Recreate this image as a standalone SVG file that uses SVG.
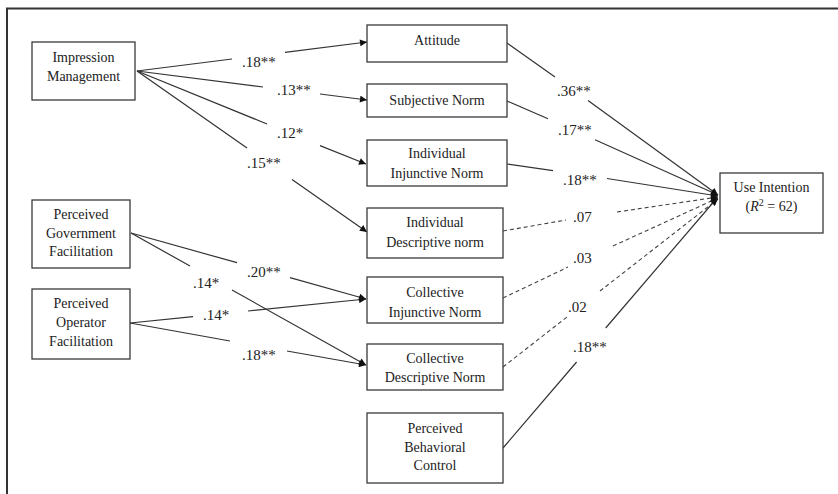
<svg xmlns="http://www.w3.org/2000/svg" width="838" height="494" viewBox="0 0 838 494">
<style>
.box{fill:#fff;stroke:#3a3a3a;stroke-width:1.3}
.t{font-family:"Liberation Serif","Times New Roman",serif;font-size:14px;fill:#222;text-anchor:middle}
.l{font-family:"Liberation Serif","Times New Roman",serif;font-size:15px;fill:#222}
.c{fill:none;stroke:#333;stroke-width:1.2}
.d{fill:none;stroke:#444;stroke-width:1.1;stroke-dasharray:4 3}
</style>
<defs>
<marker id="ah" viewBox="0 0 10 10" refX="10" refY="5" markerWidth="9" markerHeight="7" markerUnits="userSpaceOnUse" orient="auto">
<path d="M0,0 L10,5 L0,10 z" fill="#111"/>
</marker>
</defs>
<rect width="838" height="494" fill="#fff"/>
<path d="M7,494 V8.5 H838" fill="none" stroke="#333" stroke-width="2"/>

<g id="connectors">
<path class="c" marker-end="url(#ah)" d="M137,71 L232,59 M285,52.3 L367,42"/>
<path class="c" marker-end="url(#ah)" d="M137,71 L263,87 M320,94 L367,100"/>
<path class="c" marker-end="url(#ah)" d="M137,71 L267,124 M320,145.6 L366,164"/>
<path class="c" marker-end="url(#ah)" d="M137,71 L247,148 M292,179.5 L367,232"/>
<path class="c" marker-end="url(#ah)" d="M131,233 L237,262.7 M290,277.7 L366,299"/>
<path class="c" marker-end="url(#ah)" d="M131,233 L190,266 M232,290 L366,365"/>
<path class="c" marker-end="url(#ah)" d="M130,323 L193,316.6 M248,311 L366,299"/>
<path class="c" marker-end="url(#ah)" d="M130,323 L230,341 M287,351 L366,365"/>
<path class="c" marker-end="url(#ah)" d="M507,43 L555,77 M588,100.6 L718,195"/>
<path class="c" marker-end="url(#ah)" d="M507,101 L548,118.8 M595,139.7 L718,195"/>
<path class="c" marker-end="url(#ah)" d="M507,164 L553,170.6 M607,178.5 L718,196"/>
<path class="d" marker-end="url(#ah)" d="M503,231 L566,220 M617,212 L718,197"/>
<path class="d" marker-end="url(#ah)" d="M503,298 L568,267 M613,246 L718,198"/>
<path class="d" marker-end="url(#ah)" d="M503,367 L567,317 M600,291 L718,199"/>
<path class="c" marker-end="url(#ah)" d="M503,448 L576.6,362 M605.7,328 L717,198"/>
</g>

<g id="labels">
<text class="l" x="242" y="67">.18**</text>
<text class="l" x="277" y="95">.13**</text>
<text class="l" x="277" y="138">.12*</text>
<text class="l" x="247" y="168">.15**</text>
<text class="l" x="557" y="96">.36**</text>
<text class="l" x="558" y="135">.17**</text>
<text class="l" x="563" y="185">.18**</text>
<text class="l" x="573" y="222">.07</text>
<text class="l" x="573" y="263">.03</text>
<text class="l" x="568" y="312">.02</text>
<text class="l" x="573" y="352">.18**</text>
<text class="l" x="247" y="277">.20**</text>
<text class="l" x="193" y="288">.14*</text>
<text class="l" x="203" y="320">.14*</text>
<text class="l" x="242" y="360">.18**</text>
</g>

<g id="impression-management">
<rect class="box" x="32" y="42" width="103" height="58"/>
<text class="t" x="83.5" y="62">Impression</text>
<text class="t" x="83.5" y="81">Management</text>
</g>
<g id="perceived-government-facilitation">
<rect class="box" x="32" y="200" width="98" height="68"/>
<text class="t" x="81" y="219">Perceived</text>
<text class="t" x="81" y="238">Government</text>
<text class="t" x="81" y="256">Facilitation</text>
</g>
<g id="perceived-operator-facilitation">
<rect class="box" x="32" y="289" width="98" height="70"/>
<text class="t" x="81" y="308">Perceived</text>
<text class="t" x="81" y="327">Operator</text>
<text class="t" x="81" y="346">Facilitation</text>
</g>
<g id="attitude">
<rect class="box" x="367" y="25" width="140" height="37"/>
<text class="t" x="437" y="45">Attitude</text>
</g>
<g id="subjective-norm">
<rect class="box" x="367" y="84" width="140" height="33"/>
<text class="t" x="437" y="105">Subjective  Norm</text>
</g>
<g id="individual-injunctive-norm">
<rect class="box" x="367" y="140" width="140" height="46"/>
<text class="t" x="437" y="158">Individual</text>
<text class="t" x="437" y="178">Injunctive  Norm</text>
</g>
<g id="individual-descriptive-norm">
<rect class="box" x="367" y="208" width="136" height="50"/>
<text class="t" x="435" y="227">Individual</text>
<text class="t" x="435" y="247">Descriptive  norm</text>
</g>
<g id="collective-injunctive-norm">
<rect class="box" x="367" y="277" width="136" height="46"/>
<text class="t" x="435" y="297">Collective</text>
<text class="t" x="435" y="317">Injunctive  Norm</text>
</g>
<g id="collective-descriptive-norm">
<rect class="box" x="367" y="344" width="136" height="46"/>
<text class="t" x="435" y="363">Collective</text>
<text class="t" x="435" y="382">Descriptive  Norm</text>
</g>
<g id="perceived-behavioral-control">
<rect class="box" x="367" y="413" width="136" height="70"/>
<text class="t" x="435" y="433">Perceived</text>
<text class="t" x="435" y="452">Behavioral</text>
<text class="t" x="435" y="470">Control</text>
</g>
<g id="use-intention">
<rect class="box" x="720" y="173" width="103" height="60"/>
<text class="t" x="771.5" y="192">Use Intention</text>
<text class="t" x="771.5" y="211">(<tspan font-style="italic">R</tspan><tspan font-size="10" dy="-5">2</tspan><tspan dy="5"> = 62)</tspan></text>
</g>
</svg>
